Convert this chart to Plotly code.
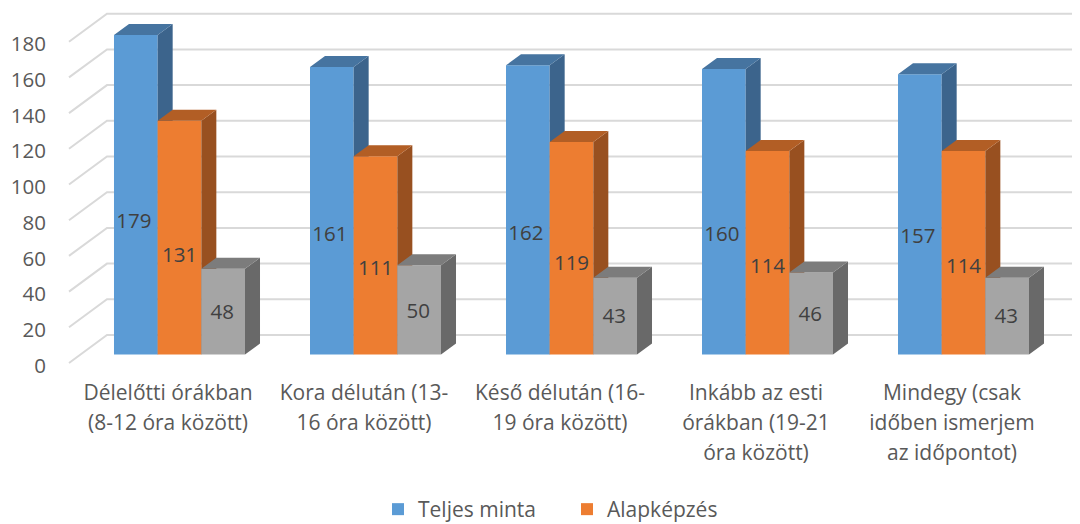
import plotly.graph_objects as go

categories = [
    "Délelőtti órákban<br>(8-12 óra között)",
    "Kora délután (13-<br>16 óra között)",
    "Késő délután (16-<br>19 óra között)",
    "Inkább az esti<br>órákban (19-21<br>óra között)",
    "Mindegy (csak<br>időben ismerjem<br>az időpontot)",
]
teljes_minta = [179, 161, 162, 160, 157]
alapkepzes = [131, 111, 119, 114, 114]
harmadik = [48, 50, 43, 46, 43]
y_ticks = [0, 20, 40, 60, 80, 100, 120, 140, 160, 180]

FONT = "Open Sans"
TICK_COLOR = "#595959"
LABEL_COLOR = "#404040"
GRID = "#d9d9d9"

# calibration of the picture (the page body adds 8 px on the top and left)
PAGE = 8
W, H = 1080 - PAGE, 524 - PAGE
PLOT_L, PLOT_B = 50 - PAGE, 372 - PAGE
FIRST_CENTER_PX, STEP_PX = 179.5 - PAGE, 196.0
ZERO_PX, UNIT_PX = 354.5 - PAGE, 1.785
BAR_W = 43.67 / STEP_PX
DX = 15 / STEP_PX
DY = 11 / UNIT_PX
WALL_FRONT_DY = -8.5 / UNIT_PX
WALL_BACK_DY = 19.5 / UNIT_PX
TICK_LABEL_DY = -11 / UNIT_PX
WALL_FRONT_X = (69 - PAGE - FIRST_CENTER_PX) / STEP_PX
WALL_BACK_X = (107 - PAGE - FIRST_CENTER_PX) / STEP_PX
X_MIN = (PLOT_L - FIRST_CENTER_PX) / STEP_PX
X_MAX = (W - FIRST_CENTER_PX) / STEP_PX
Y_MIN = (ZERO_PX - PLOT_B) / UNIT_PX
Y_MAX = ZERO_PX / UNIT_PX
CAT_LABEL_SHIFT = -11.5 / STEP_PX
LABEL_SHIFTS = [-2 / STEP_PX, 0, -1 / STEP_PX]

series = [
    ("Teljes minta", teljes_minta, "#5b9bd5", "#4674a0", "#3c648c", True),
    ("Alapképzés", alapkepzes, "#ed7d31", "#b25e25", "#985020", True),
    ("Harmadik sorozat", harmadik, "#a5a5a5", "#7c7c7c", "#696969", False),
]

fig = go.Figure()

# walls: one diagonal + one horizontal per tick
gx, gy = [], []
for v in y_ticks:
    gx += [WALL_FRONT_X, WALL_BACK_X, X_MAX, None]
    gy += [v + WALL_FRONT_DY, v + WALL_BACK_DY, v + WALL_BACK_DY, None]
fig.add_trace(go.Scatter(x=gx, y=gy, mode="lines", line=dict(color=GRID, width=2),
                         showlegend=False, hoverinfo="skip", zorder=0))

z = 1
for s, (name, vals, front, top, side, in_legend) in enumerate(series):
    offset = (s - 1.5) * BAR_W
    fig.add_trace(go.Bar(x=list(range(len(vals))), y=vals, name=name, width=BAR_W,
                         offset=offset, marker=dict(color=front, line=dict(width=0)),
                         showlegend=in_legend, zorder=z))
    tx, ty, sx, sy = [], [], [], []
    for i, v in enumerate(vals):
        x0 = i + offset
        x1 = x0 + BAR_W
        tx += [x0, x1, x1 + DX, x0 + DX, x0, None]
        ty += [v, v, v + DY, v + DY, v, None]
        sx += [x1, x1 + DX, x1 + DX, x1, x1, None]
        sy += [0, DY, v + DY, v, 0, None]
    for px, py, col in ((sx, sy, side), (tx, ty, top)):
        fig.add_trace(go.Scatter(x=px, y=py, mode="lines", fill="toself", fillcolor=col,
                                 line=dict(width=0, color=col), showlegend=False,
                                 hoverinfo="skip", zorder=z + 1))
    z += 2

for s, (name, vals, *_rest) in enumerate(series):
    offset = (s - 1) * BAR_W + LABEL_SHIFTS[s]
    fig.add_trace(go.Scatter(
        x=[i + offset for i in range(len(vals))],
        y=[0.389 * v + 4.0 for v in vals],
        text=[str(v) for v in vals], mode="text", textposition="middle center",
        textfont=dict(family=FONT, size=20.5, color=LABEL_COLOR),
        showlegend=False, hoverinfo="skip", zorder=20))

fig.update_layout(
    width=W, height=H, autosize=False,
    margin=dict(l=PLOT_L, r=0, t=0, b=H - PLOT_B, pad=0, autoexpand=False),
    paper_bgcolor="white", plot_bgcolor="white",
    barmode="overlay", font=dict(family=FONT, color=TICK_COLOR),
    legend=dict(orientation="h", x=(378 - PAGE - PLOT_L) / (W - PLOT_L), xanchor="left",
                y=-(509.5 - PAGE - PLOT_B) / PLOT_B, yanchor="middle",
                font=dict(family=FONT, size=21, color=TICK_COLOR),
                entrywidth=144, entrywidthmode="pixels", bgcolor="rgba(0,0,0,0)",
                traceorder="normal"),
    xaxis=dict(range=[X_MIN, X_MAX], showgrid=False, zeroline=False, showline=False,
               tickmode="array",
               tickvals=[i + CAT_LABEL_SHIFT for i in range(len(categories))],
               ticktext=['<span style="font-size:21px">' + c.replace("<br>", '</span><br><span style="font-size:21px">') + "</span>"
                         for c in categories],
               tickangle=0, ticks="", ticklabelstandoff=4,
               tickfont=dict(family=FONT, size=23, color=TICK_COLOR)),
    yaxis=dict(range=[Y_MIN, Y_MAX], showgrid=False, zeroline=False, showline=False,
               tickmode="array",
               tickvals=[v + TICK_LABEL_DY for v in y_ticks],
               ticktext=[str(v) for v in y_ticks], ticks="", ticklabelstandoff=3,
               tickfont=dict(family=FONT, size=20.5, color=TICK_COLOR)),
)

fig.write_html("out.html", config={"displayModeBar": False})
